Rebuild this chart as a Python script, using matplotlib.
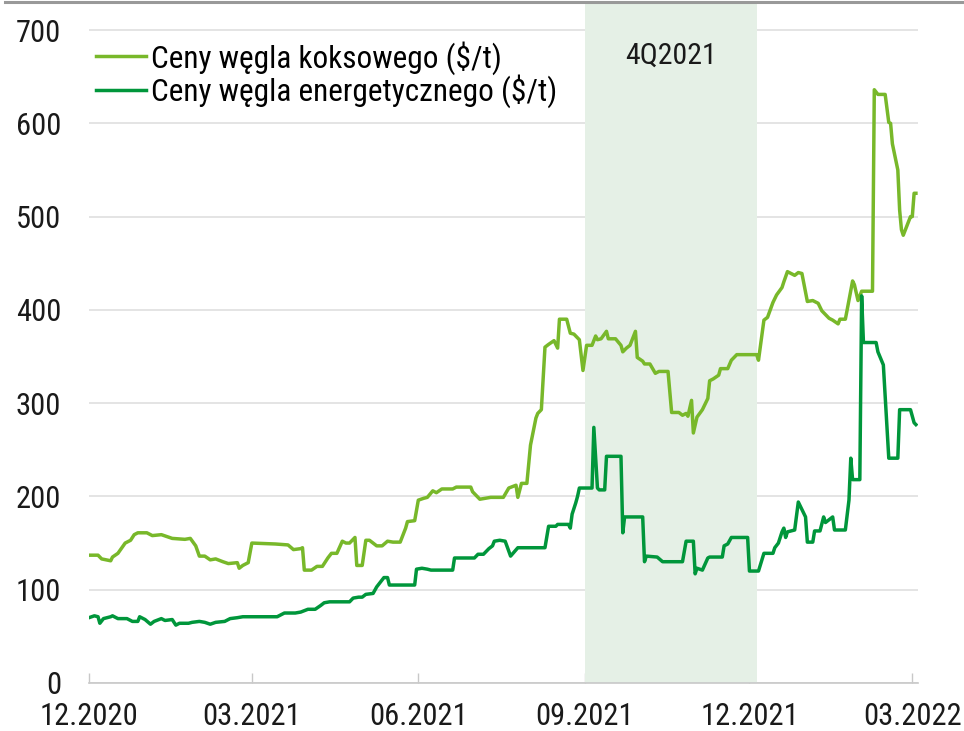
# -*- coding: utf-8 -*-

import pandas as pd
import matplotlib
matplotlib.use('Agg')
import matplotlib.pyplot as plt
from matplotlib.lines import Line2D


plt.rcParams['font.family'] = ['Roboto Condensed', 'Roboto', 'DejaVu Sans']

LABEL_COKING = u'Ceny węgla koksowego ($/t)'
LABEL_THERMAL = u'Ceny węgla energetycznego ($/t)'
QUARTER_LABEL = u'4Q2021'
QUARTER_START = '2021-09-01'
QUARTER_END = '2021-12-05'

TICK_DATES = ['2020-12-01', '2021-03-01', '2021-06-01',
              '2021-09-01', '2021-12-01', '2022-03-01']
TICK_LABELS = ['12.2020', '03.2021', '06.2021', '09.2021', '12.2021', '03.2022']
Y_TICKS = [0, 100, 200, 300, 400, 500, 600, 700]

# ceny wegla koksowego
coking_dates = [
    '2020-12-01', '2020-12-06', '2020-12-08', '2020-12-13', '2020-12-14',
    '2020-12-17', '2020-12-21', '2020-12-24', '2020-12-26', '2020-12-28',
    '2021-01-02', '2021-01-05', '2021-01-10', '2021-01-16', '2021-01-23',
    '2021-01-26', '2021-01-29', '2021-01-31', '2021-02-03', '2021-02-06',
    '2021-02-09', '2021-02-13', '2021-02-16', '2021-02-21', '2021-02-22',
    '2021-02-24', '2021-02-27', '2021-03-01', '2021-03-14', '2021-03-21',
    '2021-03-24', '2021-03-28', '2021-03-29', '2021-03-30', '2021-04-03',
    '2021-04-06', '2021-04-09', '2021-04-12', '2021-04-14', '2021-04-17',
    '2021-04-20', '2021-04-22', '2021-04-24', '2021-04-27', '2021-04-28',
    '2021-05-01', '2021-05-03', '2021-05-05', '2021-05-09', '2021-05-12',
    '2021-05-15', '2021-05-18', '2021-05-22', '2021-05-25', '2021-05-26',
    '2021-05-30', '2021-06-01', '2021-06-04', '2021-06-06', '2021-06-09',
    '2021-06-11', '2021-06-14', '2021-06-20', '2021-06-22', '2021-06-30',
    '2021-07-01', '2021-07-05', '2021-07-11', '2021-07-18', '2021-07-21',
    '2021-07-25', '2021-07-26', '2021-07-28', '2021-07-31', '2021-08-02',
    '2021-08-05', '2021-08-06', '2021-08-08', '2021-08-10', '2021-08-12',
    '2021-08-15', '2021-08-17', '2021-08-18', '2021-08-22', '2021-08-24',
    '2021-08-26', '2021-08-29', '2021-08-31', '2021-09-02', '2021-09-05',
    '2021-09-07', '2021-09-08', '2021-09-10', '2021-09-13', '2021-09-14',
    '2021-09-18', '2021-09-21', '2021-09-22', '2021-09-24', '2021-09-26',
    '2021-09-29', '2021-09-30', '2021-10-03', '2021-10-04', '2021-10-07',
    '2021-10-10', '2021-10-12', '2021-10-17', '2021-10-19', '2021-10-23',
    '2021-10-25', '2021-10-27', '2021-10-28', '2021-10-30', '2021-10-31',
    '2021-11-02', '2021-11-05', '2021-11-08', '2021-11-09', '2021-11-11',
    '2021-11-14', '2021-11-15', '2021-11-19', '2021-11-21', '2021-11-24',
    '2021-12-05', '2021-12-06', '2021-12-09', '2021-12-11', '2021-12-14',
    '2021-12-16', '2021-12-19', '2021-12-20', '2021-12-22', '2021-12-26',
    '2021-12-28', '2021-12-30', '2022-01-02', '2022-01-05', '2022-01-08',
    '2022-01-10', '2022-01-14', '2022-01-16', '2022-01-19', '2022-01-20',
    '2022-01-23', '2022-01-24', '2022-01-27', '2022-01-28', '2022-01-30',
    '2022-02-01', '2022-02-07', '2022-02-08', '2022-02-10', '2022-02-14',
    '2022-02-16', '2022-02-17', '2022-02-18', '2022-02-21', '2022-02-22',
    '2022-02-23', '2022-02-24', '2022-02-26', '2022-02-28', '2022-03-01',
    '2022-03-02', '2022-03-03',
]
coking_vals = [
    137, 137, 133, 131, 135,
    139, 150, 153, 159, 161,
    161, 158, 159, 155, 154,
    155, 147, 136, 136, 132,
    133, 130, 128, 129, 123,
    126, 129, 150, 149, 148,
    143, 144, 145, 121, 121,
    125, 125, 134, 139, 139,
    152, 150, 150, 156, 126,
    126, 153, 153, 147, 147,
    152, 151, 151, 166, 173,
    174, 196, 198, 199, 206,
    204, 208, 208, 210, 210,
    205, 197, 199, 199, 209,
    212, 199, 214, 214, 255,
    284, 289, 293, 360, 363,
    367, 359, 390, 390, 375,
    374, 368, 335, 362, 362,
    372, 368, 369, 377, 369,
    369, 362, 355, 359, 362,
    377, 349, 345, 342, 342,
    332, 334, 334, 290, 290,
    287, 289, 286, 303, 268,
    285, 293, 305, 324, 326,
    330, 337, 337, 346, 352,
    352, 346, 389, 392, 408,
    416, 424, 430, 441, 437,
    440, 439, 409, 410, 407,
    399, 391, 389, 385, 390,
    390, 400, 431, 427, 410,
    420, 420, 636, 631, 631,
    601, 600, 578, 550, 507,
    486, 480, 490, 500, 500,
    525, 525,
]

# ceny wegla energetycznego
thermal_dates = [
    '2020-12-01', '2020-12-04', '2020-12-06', '2020-12-07', '2020-12-09',
    '2020-12-13', '2020-12-14', '2020-12-17', '2020-12-22', '2020-12-25',
    '2020-12-28', '2020-12-29', '2021-01-01', '2021-01-04', '2021-01-06',
    '2021-01-10', '2021-01-12', '2021-01-16', '2021-01-18', '2021-01-20',
    '2021-01-25', '2021-01-27', '2021-01-31', '2021-02-03', '2021-02-06',
    '2021-02-09', '2021-02-14', '2021-02-17', '2021-02-21', '2021-02-24',
    '2021-03-15', '2021-03-19', '2021-03-25', '2021-03-28', '2021-04-01',
    '2021-04-05', '2021-04-08', '2021-04-10', '2021-04-13', '2021-04-24',
    '2021-04-26', '2021-04-29', '2021-05-01', '2021-05-03', '2021-05-07',
    '2021-05-09', '2021-05-11', '2021-05-13', '2021-05-15', '2021-05-16',
    '2021-05-30', '2021-05-31', '2021-06-03', '2021-06-06', '2021-06-08',
    '2021-06-20', '2021-06-21', '2021-07-02', '2021-07-04', '2021-07-07',
    '2021-07-10', '2021-07-12', '2021-07-13', '2021-07-16', '2021-07-19',
    '2021-07-22', '2021-07-26', '2021-08-10', '2021-08-12', '2021-08-16',
    '2021-08-17', '2021-08-23', '2021-08-24', '2021-08-25', '2021-08-27',
    '2021-08-28', '2021-08-29', '2021-09-05', '2021-09-06', '2021-09-08',
    '2021-09-09', '2021-09-12', '2021-09-13', '2021-09-21', '2021-09-22',
    '2021-09-23', '2021-10-03', '2021-10-04', '2021-10-05', '2021-10-11',
    '2021-10-14', '2021-10-25', '2021-10-27', '2021-10-31', '2021-11-01',
    '2021-11-02', '2021-11-05', '2021-11-08', '2021-11-09', '2021-11-16',
    '2021-11-17', '2021-11-19', '2021-11-21', '2021-11-30', '2021-12-01',
    '2021-12-06', '2021-12-09', '2021-12-14', '2021-12-15', '2021-12-17',
    '2021-12-19', '2021-12-20', '2021-12-21', '2021-12-22', '2021-12-26',
    '2021-12-28', '2021-12-30', '2022-01-01', '2022-01-02', '2022-01-05',
    '2022-01-06', '2022-01-09', '2022-01-11', '2022-01-12', '2022-01-16',
    '2022-01-17', '2022-01-23', '2022-01-25', '2022-01-26', '2022-01-27',
    '2022-01-31', '2022-02-01', '2022-02-02', '2022-02-09', '2022-02-10',
    '2022-02-13', '2022-02-16', '2022-02-21', '2022-02-22', '2022-02-28',
    '2022-03-02', '2022-03-03',
]
thermal_vals = [
    70, 72, 71, 64, 69,
    71, 72, 69, 69, 66,
    66, 71, 68, 63, 66,
    69, 67, 68, 62, 64,
    64, 65, 66, 65, 63,
    65, 66, 69, 70, 71,
    71, 75, 75, 76, 79,
    79, 83, 86, 87, 87,
    91, 92, 92, 95, 96,
    103, 108, 113, 113, 105,
    105, 122, 123, 122, 121,
    121, 134, 134, 138, 138,
    144, 147, 152, 153, 152,
    136, 145, 145, 168, 168,
    170, 170, 166, 181, 193,
    200, 209, 209, 274, 209,
    207, 207, 243, 243, 161,
    178, 178, 130, 136, 135,
    130, 130, 152, 152, 117,
    123, 121, 134, 135, 135,
    147, 149, 156, 156, 120,
    120, 139, 139, 145, 150,
    162, 166, 156, 162, 164,
    194, 186, 178, 151, 151,
    163, 163, 178, 172, 178,
    164, 164, 196, 241, 218,
    218, 415, 365, 365, 355,
    341, 241, 241, 293, 293,
    279, 277,
]

COLOR_COKING = '#78b82a'
COLOR_THERMAL = '#00963b'


def show_graph():
    fig = plt.figure(figsize=(9.64, 7.31), dpi=100)
    ax = fig.add_axes([0.0923, 0.0657, 0.8597, 0.9302])

    q_start = pd.Timestamp(QUARTER_START)
    q_end = pd.Timestamp(QUARTER_END)
    ax.axvspan(q_start, q_end, color='#e5f0e6', lw=0, zorder=1)

    ax.plot(pd.to_datetime(coking_dates), coking_vals, color=COLOR_COKING,
            lw=2.5, label=LABEL_COKING, zorder=3)
    ax.plot(pd.to_datetime(thermal_dates), thermal_vals, color=COLOR_THERMAL,
            lw=2.5, label=LABEL_THERMAL, zorder=3)

    mid = q_start + (q_end - q_start) / 2
    ax.text(mid, 673, QUARTER_LABEL, ha='center', va='center', fontsize=21.5,
            color='#1a1a1a', zorder=4)

    ax.set_xlim(pd.Timestamp('2020-12-01'), pd.Timestamp('2022-03-04'))
    ax.set_ylim(0, 729)

    ax.set_xticks(pd.to_datetime(TICK_DATES))
    ax.set_xticklabels(TICK_LABELS)
    ax.set_yticks(Y_TICKS)

    ax.tick_params(axis='x', direction='in', length=7, width=1, color='#c8c8c8',
                   labelsize=22, pad=14, labelcolor='#1a1a1a')
    ax.tick_params(axis='y', length=0, labelsize=22, pad=20, labelcolor='#1a1a1a')

    for s in ['top', 'right', 'left']:
        ax.spines[s].set_visible(False)
    ax.spines['bottom'].set_color('#c8c8c8')
    ax.spines['bottom'].set_linewidth(1.2)

    ax.set_axisbelow(True)
    ax.yaxis.grid(True, color='#dcdcdc', lw=1.1, zorder=0)
    ax.xaxis.grid(False)

    ax.legend(loc='upper left', bbox_to_anchor=(0.1, 0.944),
              bbox_transform=fig.transFigure, frameon=False, fontsize=22.5,
              handlelength=1.6, handletextpad=0.15, labelspacing=0.0,
              borderpad=0, borderaxespad=0)

    fig.add_artist(Line2D([0.005, 1.0], [0.997, 0.997], color='#999999', lw=2.2))

    fig.savefig('out.png', dpi=100)


show_graph()
